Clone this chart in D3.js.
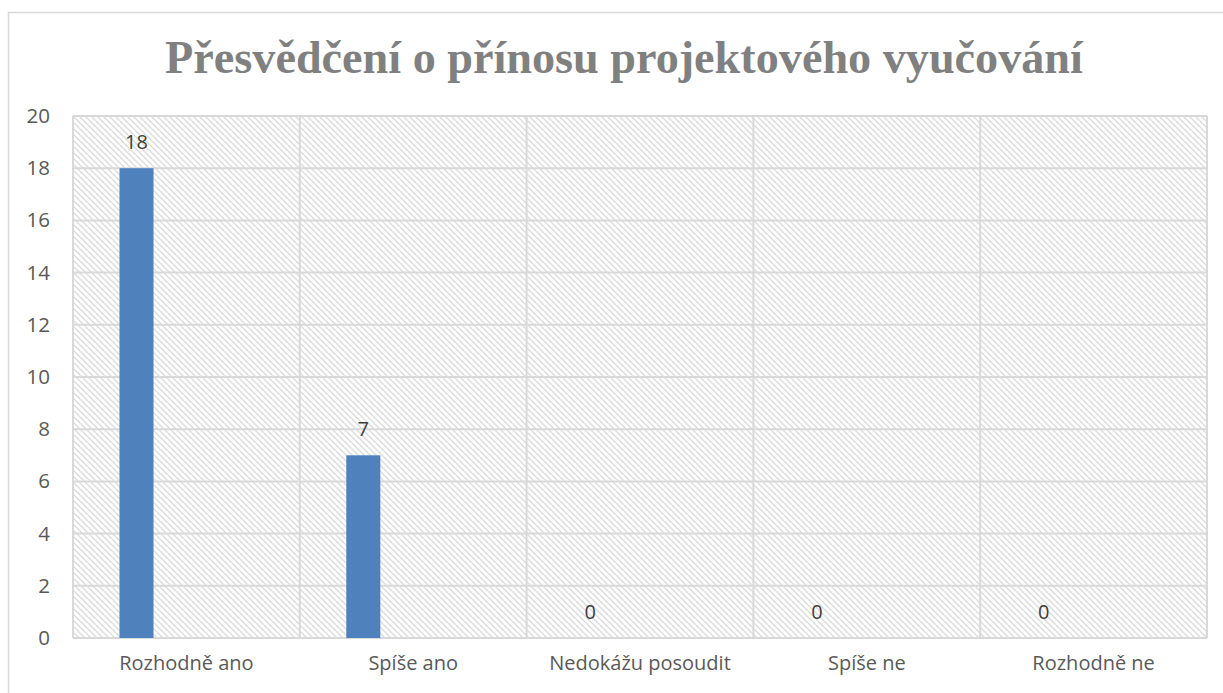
<!DOCTYPE html>
<html>
<head>
<meta charset="utf-8">
<script src="https://cdn.jsdelivr.net/npm/d3@7"></script>
<style>
  body { margin: 0; background: #fff; }
  svg { display: block; }
</style>
</head>
<body>
<div id="graf"></div>
<script>
// Data
const title = "Přesvědčení o přínosu projektového vyučování"
const categories = ["Rozhodně ano", "Spíše ano", "Nedokážu posoudit", "Spíše ne", "Rozhodně ne"]
const values = [18, 7, 0, 0, 0]
const yTicks = [0, 2, 4, 6, 8, 10, 12, 14, 16, 18, 20]

const draw = () => {
  const anchoTotal = 1223
  const altoTotal = 693
  const margins = { top: 116, right: 16, bottom: 55, left: 73 }
  const ancho = anchoTotal - margins.left - margins.right
  const alto = altoTotal - margins.top - margins.bottom

  const svg = d3.select("#graf")
    .append("svg")
    .attr("width", anchoTotal)
    .attr("height", altoTotal)

  // hatch pattern
  const pat = svg.append("defs")
    .append("pattern")
    .attr("id", "hatch")
    .attr("patternUnits", "userSpaceOnUse")
    .attr("width", 6)
    .attr("height", 6)
  pat.append("path")
    .attr("d", "M-1,-1 L7,7 M-1,5 L1,7 M5,-1 L7,1")
    .attr("stroke", "#dadada")
    .attr("stroke-width", 1.3)

  // chart border
  svg.append("rect")
    .attr("x", 8.5).attr("y", 12.5)
    .attr("width", 1240).attr("height", 720)
    .attr("fill", "none")
    .attr("stroke", "#d9d9d9")
    .attr("stroke-width", 1.5)

  // Escaladores
  const x = d3.scaleBand().domain(categories).range([0, ancho]).padding(0)
  const y = d3.scaleLinear().domain([0, 20]).range([alto, 0])

  const chart = svg.append("g")
    .attr("transform", `translate(${margins.left}, ${margins.top})`)

  chart.append("rect")
    .attr("width", ancho)
    .attr("height", alto)
    .attr("fill", "url(#hatch)")

  // horizontal grid
  chart.append("g")
    .selectAll("line")
    .data(yTicks)
    .join("line")
    .attr("x1", 0).attr("x2", ancho)
    .attr("y1", (d) => y(d)).attr("y2", (d) => y(d))
    .attr("stroke", "#d9d9d9")
    .attr("stroke-width", 2)

  // vertical grid at category boundaries
  const bounds = categories.map((c) => x(c)).concat([ancho])
  chart.append("g")
    .selectAll("line")
    .data(bounds)
    .join("line")
    .attr("x1", (d) => d).attr("x2", (d) => d)
    .attr("y1", 0).attr("y2", alto)
    .attr("stroke", "#d9d9d9")
    .attr("stroke-width", 2)

  // bars
  const bw = x.bandwidth() * 0.15
  const bOff = x.bandwidth() * 0.205
  chart.append("g")
    .selectAll("rect")
    .data(values)
    .join("rect")
    .attr("x", (d, i) => x(categories[i]) + bOff)
    .attr("y", (d) => y(d))
    .attr("width", bw)
    .attr("height", (d) => alto - y(d))
    .attr("fill", "#4f81bd")

  // data labels
  chart.append("g")
    .selectAll("text")
    .data(values)
    .join("text")
    .attr("x", (d, i) => x(categories[i]) + bOff + bw / 2)
    .attr("y", (d) => y(d) - 19)
    .attr("text-anchor", "middle")
    .attr("font-family", "'Open Sans', sans-serif")
    .attr("font-size", 20)
    .attr("fill", "#404040")
    .text((d) => d)

  // Ejes
  const yAxis = d3.axisLeft(y).tickValues(yTicks).tickSize(0).tickPadding(23)
  const yAxisGroup = chart.append("g").call(yAxis)
  yAxisGroup.select(".domain").remove()
  yAxisGroup.selectAll("text")
    .attr("font-family", "'Open Sans', sans-serif")
    .attr("font-size", 20.5)
    .attr("fill", "#595959")

  const xAxis = d3.axisBottom(x).tickSize(0).tickPadding(18)
  const xAxisGroup = chart.append("g")
    .attr("transform", `translate(0, ${alto})`)
    .call(xAxis)
  xAxisGroup.select(".domain").remove()
  xAxisGroup.selectAll("text")
    .attr("font-family", "'Open Sans', sans-serif")
    .attr("font-size", 20)
    .attr("fill", "#595959")

  // title
  const t = svg.append("text")
    .attr("x", 624)
    .attr("y", 73)
    .attr("text-anchor", "middle")
    .attr("font-family", "'Liberation Serif', serif")
    .attr("font-weight", "bold")
    .attr("font-size", 40)
    .attr("fill", "#808080")
    .text(title)
  const w = t.node().getComputedTextLength()
  t.attr("font-size", 40 * 918 / w)
}

draw()
</script>
</body>
</html>
